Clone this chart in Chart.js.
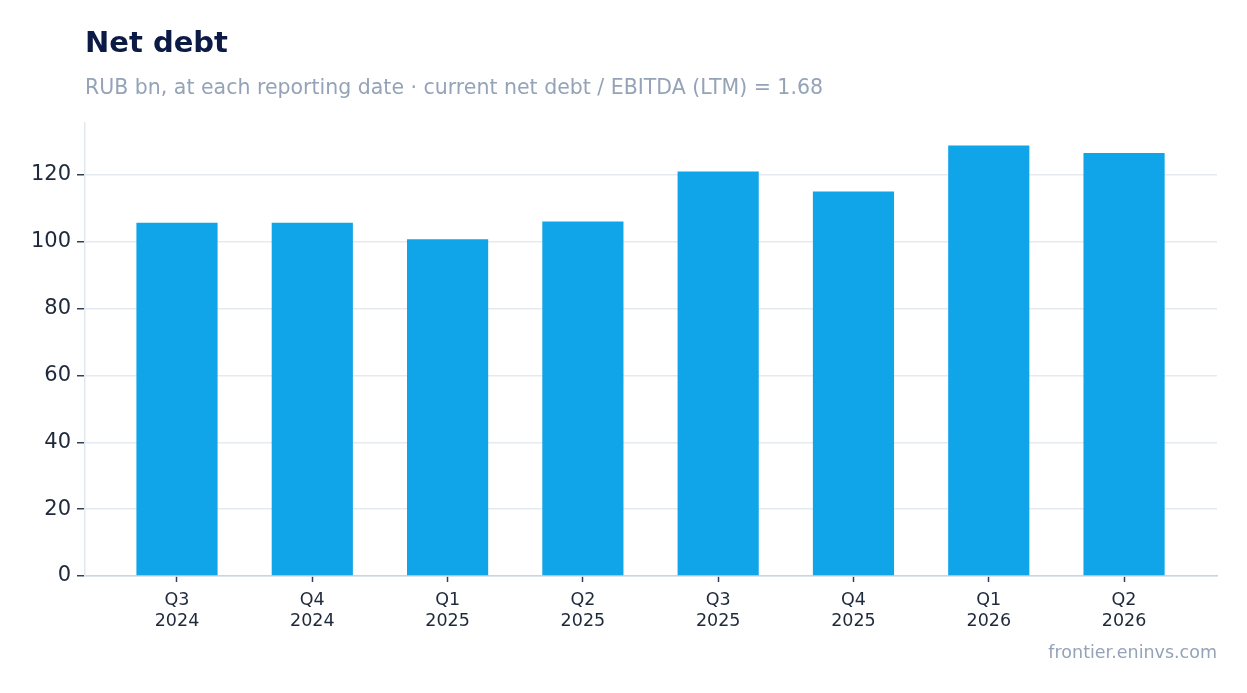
<!DOCTYPE html>
<html>
<head>
<meta charset="utf-8">
<script src="https://cdn.jsdelivr.net/npm/chart.js@4/dist/chart.umd.min.js"></script>
<style>
  html, body { margin: 0; padding: 0; background: #fff; }
  body { width: 1247px; height: 693px; position: relative; overflow: hidden; font-family: "DejaVu Sans", sans-serif; }
  #title { position: absolute; left: 85px; top: 26px; font-size: 29px; font-weight: bold; color: #0c1b45; line-height: 1.15; }
  #subtitle { position: absolute; left: 85px; top: 76px; font-size: 20.5px; color: #94a3b8; line-height: 1.15; }
  #footer { position: absolute; right: 30px; top: 642px; font-size: 17.5px; color: #94a3b8; line-height: 1.15; }
  #wrap { position: absolute; left: 0; top: 0; width: 1247px; height: 693px; }
</style>
</head>
<body>
<div id="wrap"><canvas id="chart"></canvas></div>
<div id="title">Net debt</div>
<div id="subtitle">RUB bn, at each reporting date · current net debt / EBITDA (LTM) = 1.68</div>
<div id="footer">frontier.eninvs.com</div>
<script>
const quarters = ['Q3', 'Q4', 'Q1', 'Q2', 'Q3', 'Q4', 'Q1', 'Q2'];
const years = ['2024', '2024', '2025', '2025', '2025', '2025', '2026', '2026'];
const netDebt = [105.7, 105.7, 100.7, 106.0, 121.0, 115.0, 128.8, 126.5];
const yTicks = [0, 20, 40, 60, 80, 100, 120];

// linear x so the outer margin can be wider than half a category
const points = netDebt.map((v, i) => ({ x: i, y: v }));

new Chart(document.getElementById('chart'), {
  type: 'bar',
  data: {
    datasets: [{
      data: points,
      backgroundColor: '#10a5e8',
      borderWidth: 0,
      categoryPercentage: 1,
      barPercentage: 0.6
    }]
  },
  options: {
    responsive: true,
    maintainAspectRatio: false,
    animation: false,
    layout: { padding: { left: 0, right: 30, top: 123, bottom: 39 } },
    plugins: { legend: { display: false }, tooltip: { enabled: false } },
    scales: {
      x: {
        type: 'linear',
        min: -0.68,
        max: quarters.length - 1 + 0.687,
        offset: false,
        afterFit: (scale) => { scale.height = 78; },
        afterBuildTicks: (scale) => { scale.ticks = quarters.map((q, i) => ({ value: i })); },
        grid: { offset: false, drawOnChartArea: false, drawTicks: true, tickLength: 6, tickColor: '#334155', tickWidth: 1.5 },
        border: { color: '#cbd5e1', width: 1.5 },
        ticks: {
          color: '#1e293b',
          font: { family: 'DejaVu Sans', size: 17.5, lineHeight: 1.2 },
          padding: 8,
          maxRotation: 0,
          autoSkip: false,
          callback: (value) => [quarters[value], years[value]]
        }
      },
      y: {
        min: 0,
        max: 135.5,
        afterFit: (scale) => { scale.width = 85; },
        afterBuildTicks: (scale) => { scale.ticks = yTicks.map(v => ({ value: v })); },
        grid: { color: '#e5e9f0', lineWidth: 1.5, tickLength: 8, tickColor: '#334155', tickWidth: 1.5 },
        border: { color: '#e2e8f0', width: 1.5 },
        ticks: { color: '#1e293b', font: { family: 'DejaVu Sans', size: 21 }, padding: 6 }
      }
    }
  }
});
</script>
</body>
</html>
